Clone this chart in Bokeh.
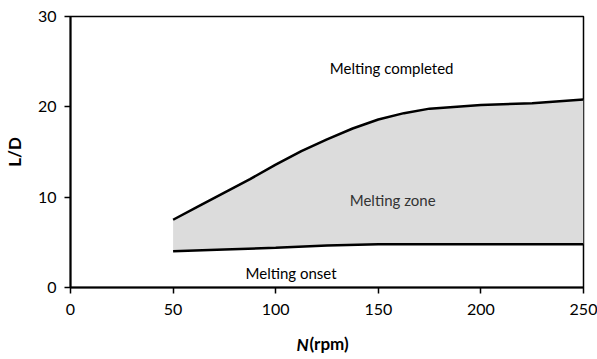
import numpy as np
from bokeh.plotting import figure
from bokeh.models import Range1d, FixedTicker, Label, LinearAxis
from bokeh.embed import file_html
from bokeh.resources import INLINE

# Screw speed (rpm) and axial positions (L/D) bounding the melting zone
speed_upper = [50, 62.5, 75, 87.5, 100, 112.5, 125, 137.5, 150, 162.5, 175, 200, 225, 250]
ld_completed = [7.5, 9.0, 10.5, 12.0, 13.6, 15.1, 16.4, 17.6, 18.6, 19.3, 19.8, 20.2, 20.4, 20.8]
speed_lower = [50, 75, 100, 125, 150, 200, 250]
ld_onset = [4.0, 4.2, 4.4, 4.65, 4.8, 4.8, 4.8]

x_ticks = [0, 50, 100, 150, 200, 250]
y_ticks = [0, 10, 20, 30]

FONT = "Lato"

p = figure(width=597, height=359, output_backend="svg", toolbar_location=None,
           x_range=Range1d(0, 250), y_range=Range1d(0, 30),
           min_border_left=69, min_border_right=14, min_border_top=16, min_border_bottom=72)

# shaded band between onset and completion of melting
onset_interp = np.interp(speed_upper, speed_lower, ld_onset).tolist()
p.varea(x=speed_upper, y1=onset_interp, y2=ld_completed, fill_color="#dcdcdc")
p.line(speed_upper, ld_completed, line_color="black", line_width=2.5)
p.line(speed_lower, ld_onset, line_color="black", line_width=2.5)

for txt, x, y in [("Melting completed", 156.5, 24.3), ("Melting zone", 157, 9.7), ("Melting onset", 107.5, 1.6)]:
    p.add_layout(Label(x=x, y=y, text=txt, text_align="center", text_baseline="middle",
                       text_font=FONT, text_font_size="15px",
                       text_color="#333333" if txt == "Melting zone" else "black"))

p.xgrid.visible = False
p.ygrid.visible = False
p.outline_line_color = "black"
p.outline_line_width = 1.5
p.outline_line_alpha = 1

for ax, ticks in ((p.xaxis, x_ticks), (p.yaxis, y_ticks)):
    ax.ticker = FixedTicker(ticks=ticks)
    ax.minor_tick_line_color = None
    ax.axis_line_width = 2
    ax.axis_line_color = "black"
    ax.major_tick_line_width = 1.5
    ax.major_tick_line_color = "black"
    ax.major_tick_out = 6
    ax.major_tick_in = 0
    ax.major_label_text_font = FONT
    ax.major_label_text_font_size = "16px"
    ax.major_label_text_color = "black"

p.xaxis.major_label_standoff = 10
p.yaxis.major_label_standoff = 8
p.yaxis.axis_label = "L/D"
p.yaxis.axis_label_text_font = FONT
p.yaxis.axis_label_text_font_size = "17px"
p.yaxis.axis_label_text_font_style = "bold"
p.yaxis.axis_label_text_color = "black"
p.yaxis.axis_label_standoff = 10

# x-axis title written as two label-only axes: italic symbol, then the unit on the same line
N_POS, UNIT_POS = 113.1, 126.0


def title_axis(pos, text, style, standoff):
    ax = LinearAxis(ticker=FixedTicker(ticks=[pos]), major_label_overrides={pos: text})
    ax.axis_line_color = None
    ax.major_tick_line_color = None
    ax.minor_tick_line_color = None
    ax.major_tick_out = 0
    ax.major_tick_in = 0
    ax.major_label_standoff = standoff
    ax.major_label_text_font = FONT
    ax.major_label_text_font_size = "17px"
    ax.major_label_text_font_style = style
    ax.major_label_text_color = "black"
    return ax


p.add_layout(title_axis(N_POS, "N", "bold italic", 16), "below")
p.add_layout(title_axis(UNIT_POS, "(rpm)", "bold", -25), "below")

open("out.html", "w").write(file_html(p, INLINE))
